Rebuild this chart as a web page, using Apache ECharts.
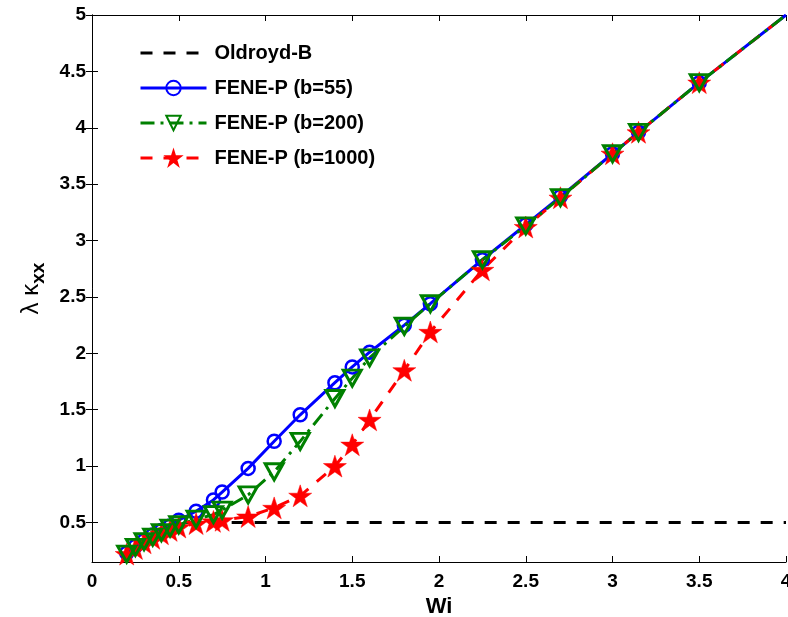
<!DOCTYPE html>
<html>
<head>
<meta charset="utf-8">
<script src="https://cdn.jsdelivr.net/npm/echarts@6/dist/echarts.min.js"></script>
<style>html,body{margin:0;padding:0;background:#fff}#c{width:788px;height:617px}</style>
</head>
<body>
<div id="c"></div>
<script>
// ---- data ----
const wi = [0.2,0.25,0.3,0.35,0.4,0.45,0.5,0.6,0.7,0.75,0.9,1.05,1.2,1.4,1.5,1.6,1.8,1.95,2.25,2.5,2.7,3,3.15,3.5,4];
const fene55 = [0.23,0.29,0.34,0.39,0.43,0.47,0.52,0.60,0.70,0.77,0.98,1.22,1.455,1.74,1.88,2.01,2.25,2.44,2.83,3.14,3.39,3.77,3.96,4.40,5.0];
const fene200 = [0.22,0.28,0.33,0.37,0.41,0.45,0.48,0.53,0.57,0.61,0.745,0.95,1.22,1.60,1.78,1.96,2.24,2.44,2.83,3.13,3.38,3.77,3.96,4.40,5.0];
const fene1000 = [0.22,0.27,0.32,0.36,0.40,0.43,0.46,0.49,0.51,0.52,0.553,0.63,0.737,1.0,1.19,1.41,1.85,2.19,2.74,3.12,3.38,3.77,3.96,4.40,5.0];
const oldWi = [0.2,0.25,0.3,0.35,0.4,0.45,0.5,4];
const oldY = [0.2,0.25,0.3,0.35,0.4,0.45,0.5,0.5];
const xTicks = [0,0.5,1,1.5,2,2.5,3,3.5,4];
const yTicks = [0.5,1,1.5,2,2.5,3,3.5,4,4.5,5];
const names = ['Oldroyd-B','FENE-P (b=55)','FENE-P (b=200)','FENE-P (b=1000)'];

const STAR = 'path://M100,0L122.45,69.1L195.1,69.1L136.33,111.8L158.8,180.9L100,138.2L41.2,180.9L63.67,111.8L4.9,69.1L77.55,69.1Z';

function pts(xs, ys){
  return xs.map((x,i)=> x===4 ? {value:[x,ys[i]], symbol:'none'} : [x,ys[i]]);
}
const FONT = '"Liberation Sans", Arial, sans-serif';
const chart = echarts.init(document.getElementById('c'), null, {renderer:'canvas'});
const tickStyle = {show:true, inside:true, length:6, lineStyle:{color:'#000', width:1}};
chart.setOption({
  animation:false,
  backgroundColor:'#fff',
  grid:{left:92, right:2, top:15, bottom:55, containLabel:false, outerBoundsMode:'none'},
  legend:{
    orient:'vertical', left:139, top:43, padding:0, itemWidth:66, itemHeight:18, itemGap:15,
    data:[
      {name:names[0], itemStyle:{opacity:0}, lineStyle:{width:3}},
      {name:names[1], lineStyle:{width:3}},
      {name:names[2], lineStyle:{width:3}},
      {name:names[3], lineStyle:{width:3}}
    ],
    textStyle:{fontFamily:FONT, fontWeight:'bold', fontSize:20, color:'#000', padding:[0,0,0,3]}
  },
  xAxis:[{
    type:'value', min:0, max:4, interval:0.5,
    name:'Wi', nameLocation:'middle', nameGap:31,
    nameTextStyle:{fontFamily:FONT, fontWeight:'bold', fontSize:22, color:'#000'},
    axisLine:{show:true, lineStyle:{color:'#000', width:1}},
    axisTick:tickStyle,
    axisLabel:{fontFamily:FONT, fontWeight:'bold', fontSize:19, color:'#000', margin:10, showMaxLabel:true, showMinLabel:true},
    splitLine:{show:false}
  },{
    type:'value', min:0, max:4, interval:0.5, position:'top',
    axisLine:{show:true, lineStyle:{color:'#000', width:1}},
    axisTick:tickStyle, axisLabel:{show:false}, splitLine:{show:false}
  }],
  yAxis:[{
    type:'value', min:0.15, max:5,
    name:'{a|λ κ}{s|xx}', nameLocation:'middle', nameGap:40, nameRotate:90,
    nameTextStyle:{fontFamily:FONT, color:'#000',
      rich:{a:{fontFamily:FONT, fontSize:24, color:'#000', lineHeight:34, verticalAlign:'middle'},
            s:{fontFamily:FONT, fontSize:19, fontWeight:'bold', color:'#000', lineHeight:19, verticalAlign:'bottom'}}},
    axisLine:{show:true, lineStyle:{color:'#000', width:1}},
    axisTick:Object.assign({}, tickStyle, {customValues:yTicks}),
    axisLabel:{fontFamily:FONT, fontWeight:'bold', fontSize:19, color:'#000', margin:6, customValues:yTicks},
    splitLine:{show:false}
  },{
    type:'value', min:0.15, max:5, position:'right',
    axisLine:{show:true, lineStyle:{color:'#000', width:1}},
    axisTick:Object.assign({}, tickStyle, {customValues:yTicks}),
    axisLabel:{show:false}, splitLine:{show:false}
  }],
  series:[
    {name:names[0], type:'line', data:pts(oldWi, oldY), showSymbol:false, symbol:'none',
     lineStyle:{color:'#000', width:3, type:[12,11]}, itemStyle:{color:'#000'}, clip:true},
    {name:names[1], type:'line', data:pts(wi, fene55), symbol:'circle', symbolSize:13,
     lineStyle:{color:'#0000ff', width:3, type:'solid'},
     itemStyle:{color:'rgba(0,0,0,0)', borderColor:'#0000ff', borderWidth:2.5}, clip:true},
    {name:names[3], type:'line', data:pts(wi, fene1000), symbol:STAR, symbolSize:23, symbolKeepAspect:true,
     lineStyle:{color:'#ff0000', width:3, type:[12,11]},
     itemStyle:{color:'#ff0000', borderColor:'#ff0000', borderWidth:0.5}, clip:true},
    {name:names[2], type:'line', data:pts(wi, fene200), symbol:'triangle', symbolRotate:180, symbolSize:[18,16],
     lineStyle:{color:'#008000', width:3, type:[14,6,3,6]},
     itemStyle:{color:'rgba(0,0,0,0)', borderColor:'#008000', borderWidth:3}, clip:true}
  ]
});
</script>
</body>
</html>
